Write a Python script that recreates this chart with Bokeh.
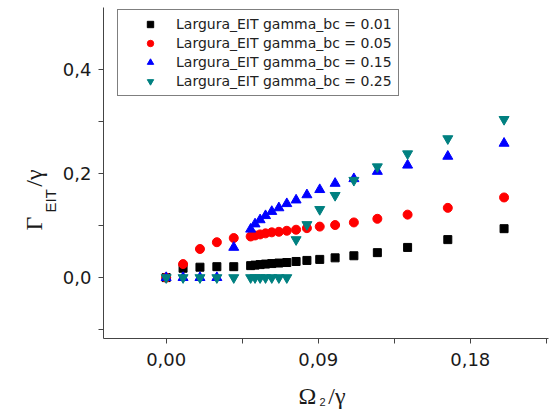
import numpy as np
from bokeh.plotting import figure
from bokeh.models import (FixedTicker, CustomJSTickFormatter, Label, Legend,
                          LegendItem, Range1d)
from bokeh.embed import file_html
from bokeh.resources import INLINE

# ---- data ----
omega = [0.0, 0.01, 0.02, 0.03, 0.04, 0.05, 0.0526, 0.0556, 0.0588, 0.0625,
         0.0667, 0.0714, 0.0769, 0.0833, 0.0909, 0.1, 0.1111, 0.125, 0.1429,
         0.1667, 0.2]
g001 = [0.0, 0.018, 0.020, 0.021, 0.021, 0.023, 0.024, 0.025, 0.026, 0.027,
        0.028, 0.029, 0.031, 0.033, 0.035, 0.038, 0.042, 0.048, 0.058, 0.073,
        0.094]
g005 = [0.0, 0.026, 0.055, 0.068, 0.076, 0.079, 0.081, 0.083, 0.085, 0.087,
        0.088, 0.090, 0.092, 0.095, 0.098, 0.101, 0.106, 0.113, 0.121, 0.134,
        0.154]
g015 = [0.0, 0.0, 0.0, 0.0, 0.058, 0.093, 0.103, 0.111, 0.119, 0.127, 0.134,
        0.142, 0.149, 0.159, 0.169, 0.181, 0.190, 0.204, 0.216, 0.233, 0.258]
g025 = [0.0, 0.0, 0.0, 0.0, 0.0, 0.0, 0.0, 0.0, 0.0, 0.0, 0.0, 0.0, 0.073,
        0.102, 0.131, 0.158, 0.187, 0.213, 0.238, 0.267, 0.304]

series_labels = ["Largura_EIT gamma_bc = 0.01", "Largura_EIT gamma_bc = 0.05",
                 "Largura_EIT gamma_bc = 0.15", "Largura_EIT gamma_bc = 0.25"]
x_ticks = [0.0, 0.09, 0.18]
x_minor = [0.045, 0.135, 0.225]
y_ticks = [0.0, 0.2, 0.4]
y_minor = [-0.1, 0.1, 0.3]

X0, X1 = -0.0371, 0.2263
Y0, Y1 = -0.117, 0.519
F_LEFT, F_RIGHT, F_TOP, F_BOTTOM = 103, 548, 7, 338
W, H = 552, 410

p = figure(width=W, height=H, output_backend="svg", toolbar_location=None,
           x_range=Range1d(X0, X1), y_range=Range1d(Y0, Y1))
p.min_border = 0
p.min_border_left = F_LEFT
p.min_border_right = W - F_RIGHT
p.min_border_top = F_TOP
p.min_border_bottom = H - F_BOTTOM
p.outline_line_color = None
p.xgrid.visible = False
p.ygrid.visible = False
p.background_fill_color = "white"
p.border_fill_color = "white"

for ax in (p.xaxis[0], p.yaxis[0]):
    ax.axis_line_color = "#444444"
    ax.major_tick_line_color = "#444444"
    ax.minor_tick_line_color = "#444444"
    ax.major_tick_in = 0
    ax.minor_tick_in = 0
    ax.major_tick_out = 5
    ax.minor_tick_out = 5
    ax.major_label_text_font = "DejaVu Sans"
    ax.major_label_text_font_size = "18px"
    ax.major_label_text_color = "#1a1a1a"

p.xaxis.ticker = FixedTicker(ticks=x_ticks, minor_ticks=x_minor)
p.yaxis.ticker = FixedTicker(ticks=y_ticks, minor_ticks=y_minor)
p.xaxis.formatter = CustomJSTickFormatter(code="return tick.toFixed(2).replace('.', ',');")
p.yaxis.formatter = CustomJSTickFormatter(code="return tick.toFixed(1).replace('.', ',');")
p.xaxis.major_label_standoff = 9
p.yaxis.major_label_standoff = 7

r1 = p.scatter(omega, g001, marker="square", size=8, color="black")
r2 = p.scatter(omega, g005, marker="circle", size=9, color="#ff0000")
r3 = p.scatter(omega, g015, marker="triangle", size=10, color="#0000ff")
r4 = p.scatter(omega, g025, marker="inverted_triangle", size=10, color="#008080")

legend = Legend(items=[LegendItem(label=series_labels[i], renderers=[r])
                       for i, r in enumerate([r1, r2, r3, r4])],
                location=(14, 242))
legend.padding = 6
legend.spacing = 3
legend.margin = 0
legend.glyph_width = 52
legend.glyph_height = 16
legend.label_height = 16
legend.label_standoff = 0
legend.label_text_font = "DejaVu Sans"
legend.label_text_font_size = "14px"
legend.label_text_color = "#222222"
legend.border_line_color = "black"
legend.border_line_width = 1
legend.background_fill_color = "white"
legend.background_fill_alpha = 1.0
p.add_layout(legend)

# pixel -> data helpers for placing the axis-title pieces
def px_x(px):
    return X0 + (px - F_LEFT) * (X1 - X0) / (F_RIGHT - F_LEFT)

def px_y(py):
    return Y1 - (py - F_TOP) * (Y1 - Y0) / (F_BOTTOM - F_TOP)

def lab(side, px, py, text, font, size, style="normal", angle=0.0):
    p.add_layout(Label(x=px_x(px), y=px_y(py), text=text,
                       angle=angle, text_font=font, text_font_size=size,
                       text_font_style=style, text_color="#1a1a1a",
                       text_align="left", text_baseline="alphabetic"), side)

NB = "\u00a0"
# y axis title: Γ_EIT / γ (rotated)
lab("left", 33, 230, "Γ" + NB * 5 + "/γ", "Liberation Serif", "24px", angle=np.pi / 2)
lab("left", 50, 212, "EIT", "Liberation Sans", "15px", angle=np.pi / 2)

# x axis title: Ω_2 / γ
lab("below", 298, 395, "Ω" + NB * 2 + "/γ", "Liberation Serif", "24px")
lab("left", 319, 401, "2", "Liberation Sans", "11px")

open("out.html", "w").write(file_html(p, INLINE))
